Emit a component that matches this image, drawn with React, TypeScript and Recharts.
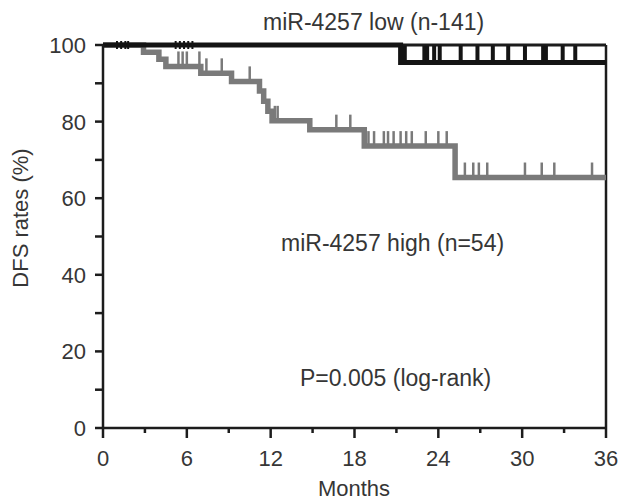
import { ComposedChart, Line, Scatter, XAxis, YAxis, ReferenceLine } from 'recharts';

// Kaplan-Meier steps (month, DFS %)
const lowMonths = [0, 21.3, 36];
const lowRates = [100, 95.4, 95.4];

const highMonths = [0, 2.9, 4.0, 4.5, 7.0, 9.2, 11.2, 11.5, 11.8, 12.1, 14.8, 18.7, 25.2, 36];
const highRates = [100, 98.1, 96.3, 94.4, 92.6, 90.5, 88.0, 85.3, 82.7, 80.2, 77.9, 73.6, 65.4, 65.4];

// censored cases
const lowEarlyCensorMonths = [1.0, 1.3, 1.6, 1.8, 5.2, 5.5, 5.8, 6.1, 6.4];
const lowEarlyCensorRates = [100, 100, 100, 100, 100, 100, 100, 100, 100];
const lowLateCensorMonths = [21.6, 23.0, 23.2, 23.7, 24.1, 25.6, 26.8, 27.9, 29.0, 30.2, 31.5, 31.7, 32.9, 33.8];
const lowLateCensorRates = [95.4, 95.4, 95.4, 95.4, 95.4, 95.4, 95.4, 95.4, 95.4, 95.4, 95.4, 95.4, 95.4, 95.4];

const highCensorMonths = [
  5.4, 5.7, 6.0, 6.9, 7.4, 8.5, 10.5, 12.3, 12.5, 16.7, 17.7,
  19.0, 19.4, 20.1, 20.4, 20.8, 21.3, 21.7, 22.1, 23.1, 24.0, 24.6,
  25.9, 26.5, 26.9, 27.5, 30.2, 31.4, 32.3, 35.0
];
const highCensorRates = [
  94.4, 94.4, 94.4, 94.4, 92.6, 92.6, 90.5, 80.2, 80.2, 77.9, 77.9,
  73.6, 73.6, 73.6, 73.6, 73.6, 73.6, 73.6, 73.6, 73.6, 73.6, 73.6,
  65.4, 65.4, 65.4, 65.4, 65.4, 65.4, 65.4, 65.4
];

const monthTicks = [0, 3, 6, 9, 12, 15, 18, 21, 24, 27, 30, 33, 36];
const monthLabels = [0, 6, 12, 18, 24, 30, 36];
const rateTicks = [0, 10, 20, 30, 40, 50, 60, 70, 80, 90, 100];
const rateLabels = [0, 20, 40, 60, 80, 100];

const toPoints = (months: number[], rates: number[]) =>
  months.map((m, i) => ({ month: m, rate: rates[i] }));

const lowData = toPoints(lowMonths, lowRates);
const highData = toPoints(highMonths, highRates);
const lowEarlyCensor = toPoints(lowEarlyCensorMonths, lowEarlyCensorRates);
const lowLateCensor = toPoints(lowLateCensorMonths, lowLateCensorRates);
const highCensor = toPoints(highCensorMonths, highCensorRates);

const FONT = '"Liberation Sans", Arial, sans-serif';
const TEXT = '#363636';
const AXIS = '#1c1c1c';
const GRAY = '#7a7a7a';
const BLACK = '#141414';
const TICK_SIZE = 10;
const TICK_MARGIN = 4;

function MonthTick(props: any) {
  const { x, y, payload } = props;
  const axisY = y - TICK_SIZE - TICK_MARGIN;
  const major = monthLabels.includes(payload.value);
  return (
    <g>
      <line x1={x} x2={x} y1={axisY} y2={axisY + (major ? 10 : 5)} stroke={AXIS} strokeWidth={2.5} />
      {major && (
        <text x={x} y={axisY + 38} textAnchor="middle" fill={TEXT} fontSize={22} fontFamily={FONT}>
          {payload.value}
        </text>
      )}
    </g>
  );
}

function RateTick(props: any) {
  const { x, y, payload } = props;
  const axisX = x + TICK_SIZE + TICK_MARGIN;
  const major = rateLabels.includes(payload.value);
  return (
    <g>
      <line x1={axisX - 8} x2={axisX} y1={y} y2={y} stroke={AXIS} strokeWidth={2.5} />
      {major && (
        <text x={axisX - 17} y={y + 8} textAnchor="end" fill={TEXT} fontSize={22} fontFamily={FONT}>
          {payload.value}
        </text>
      )}
    </g>
  );
}

const smallCensor = (p: any) => (
  <line x1={p.cx} x2={p.cx} y1={p.cy - 4} y2={p.cy + 4} stroke={BLACK} strokeWidth={2} />
);
const tallCensor = (p: any) => (
  <line x1={p.cx} x2={p.cx} y1={p.cy} y2={p.cy - 17} stroke={BLACK} strokeWidth={4} />
);
const grayCensor = (p: any) => (
  <line x1={p.cx} x2={p.cx} y1={p.cy - 2} y2={p.cy - 15} stroke={GRAY} strokeWidth={2.5} />
);

export default function App() {
  return (
    <div style={{ position: 'absolute', left: 0, top: 0, width: 622, height: 501, background: '#fff' }}>
      <ComposedChart width={622} height={501} margin={{ top: 45, right: 16, bottom: 0, left: 0 }}>
        <XAxis
          dataKey="month"
          type="number"
          domain={[0, 36]}
          ticks={monthTicks}
          interval={0}
          height={73}
          tickSize={TICK_SIZE}
          tickMargin={TICK_MARGIN}
          tickLine={false}
          tick={<MonthTick />}
          axisLine={{ stroke: AXIS, strokeWidth: 2.5 }}
        />
        <YAxis
          dataKey="rate"
          type="number"
          domain={[0, 100]}
          ticks={rateTicks}
          interval={0}
          width={103}
          tickSize={TICK_SIZE}
          tickMargin={TICK_MARGIN}
          tickLine={false}
          tick={<RateTick />}
          axisLine={{ stroke: AXIS, strokeWidth: 2.5 }}
        />
        <ReferenceLine x={36} stroke={AXIS} strokeWidth={2.5} />
        <ReferenceLine y={100} stroke={AXIS} strokeWidth={3} />
        <Line
          data={highData}
          dataKey="rate"
          type="stepAfter"
          stroke={GRAY}
          strokeWidth={5.5}
          dot={false}
          isAnimationActive={false}
        />
        <Scatter data={highCensor} dataKey="rate" shape={grayCensor} isAnimationActive={false} />
        <Line
          data={lowData}
          dataKey="rate"
          type="stepAfter"
          stroke={BLACK}
          strokeWidth={5}
          dot={false}
          isAnimationActive={false}
        />
        <Scatter data={lowEarlyCensor} dataKey="rate" shape={smallCensor} isAnimationActive={false} />
        <Scatter data={lowLateCensor} dataKey="rate" shape={tallCensor} isAnimationActive={false} />
      </ComposedChart>
      <svg
        width={622}
        height={501}
        style={{ position: 'absolute', left: 0, top: 0, pointerEvents: 'none' }}
        fontFamily={FONT}
        fill={TEXT}
      >
        <text x={263} y={30} fontSize={23}>miR-4257 low (n-141)</text>
        <text x={281} y={251} fontSize={23}>miR-4257 high (n=54)</text>
        <text x={300} y={386} fontSize={23}>P=0.005 (log-rank)</text>
        <text x={354} y={496} fontSize={22} textAnchor="middle">Months</text>
        <text x={28} y={218} fontSize={22} textAnchor="middle" transform="rotate(-90 28 218)">
          DFS rates (%)
        </text>
      </svg>
    </div>
  );
}
